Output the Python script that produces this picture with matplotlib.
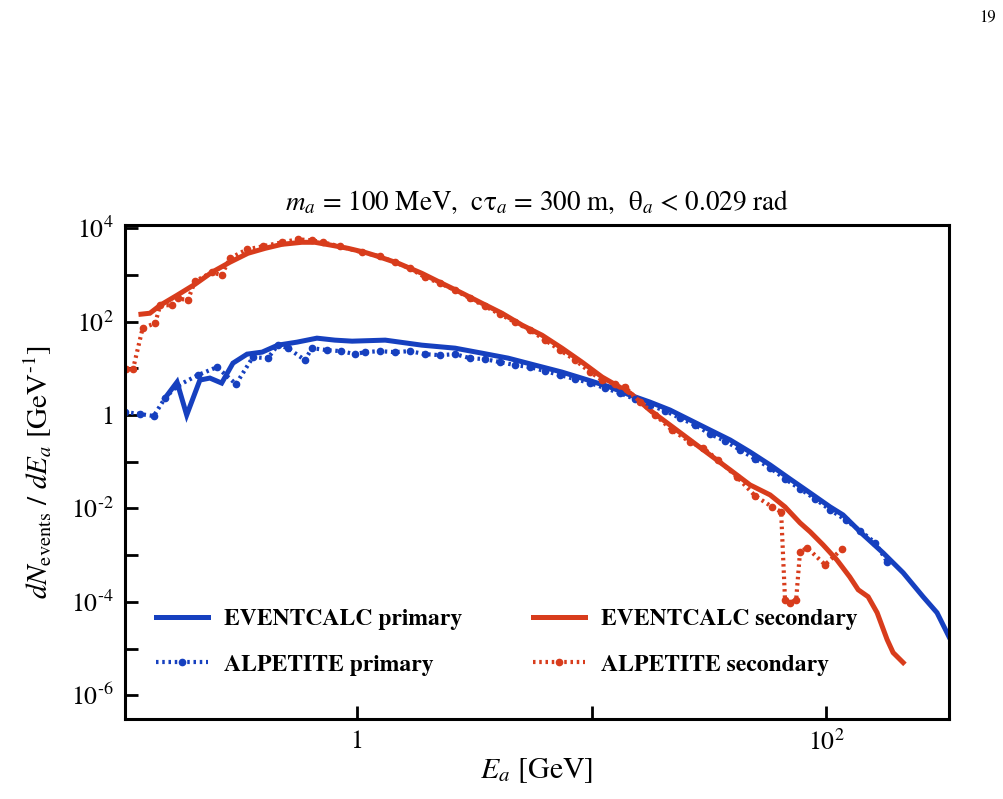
import numpy as np
import matplotlib
matplotlib.use("Agg")
import matplotlib.pyplot as plt
from matplotlib.ticker import FixedLocator, FixedFormatter, NullLocator

plt.rcParams['font.family'] = 'STIXGeneral'
plt.rcParams['mathtext.fontset'] = 'stix'

# EVENTCALC primary (solid blue)
E_ev_prim = [0.152, 0.171, 0.188, 0.214, 0.236, 0.265, 0.296, 0.340, 0.394, 0.460,
             0.555, 0.675, 0.805, 0.953, 1.32, 1.89, 2.62, 3.41, 4.41, 5.74,
             7.48, 9.66, 12.0, 14.6, 17.7, 21.6, 26.3, 32.0, 39.0, 47.4,
             57.7, 70.1, 85.5, 104, 118, 144, 175, 213, 259, 297, 334]
N_ev_prim = [2.31, 5.07, 1.00, 5.60, 6.18, 4.83, 12.9, 20.1, 22.2, 31.3,
             36.3, 44.2, 40.1, 38.1, 40.1, 31.3, 27.0, 21.1, 16.5, 11.7,
             8.30, 5.60, 3.96, 2.67, 1.90, 1.28, 0.782, 0.478, 0.292, 0.162,
             0.0855, 0.0429, 0.0215, 0.0108, 0.00729, 0.00273, 0.00112, 4.21e-4, 1.29e-4, 5.87e-5, 1.80e-5]

# EVENTCALC secondary (solid red)
E_ev_sec = [0.120, 0.131, 0.145, 0.171, 0.204, 0.241, 0.287, 0.343, 0.406, 0.479,
            0.582, 0.662, 0.782, 0.916, 1.08, 1.19, 1.50, 1.89, 2.30, 2.81,
            3.41, 4.15, 5.06, 6.15, 7.48, 9.10, 11.1, 14.6, 17.7, 21.6,
            26.3, 32.0, 39.0, 47.4, 57.7, 66.8, 77.4, 85.5, 97.0, 111,
            126, 137, 151, 165, 182, 193, 213]
N_ev_sec = [144, 151, 224, 366, 630, 1140, 1860, 2900, 3700, 4510,
            4980, 4980, 4290, 3700, 3040, 2620, 1770, 1080, 662, 405,
            247, 151, 83.8, 51.2, 27.0, 13.6, 6.49, 2.95, 1.28, 0.611,
            0.292, 0.140, 0.0668, 0.0319, 0.0195, 0.0108, 0.00492, 0.00316, 0.00167, 7.98e-4,
            3.45e-4, 1.82e-4, 1.29e-4, 5.87e-5, 1.56e-5, 8.22e-6, 5.02e-6]

# ALPETITE primary (dotted blue)
E_al_prim = [0.1025, 0.119, 0.136, 0.152, 0.171, 0.210, 0.253, 0.305, 0.360, 0.417,
             0.460, 0.508, 0.600, 0.643, 0.745, 0.855, 0.980, 1.08, 1.25, 1.45,
             1.68, 1.95, 2.26, 2.62, 3.03, 3.51, 4.07, 4.72, 5.47, 6.34,
             7.34, 8.51, 9.86, 11.4, 13.2, 15.3, 17.7, 20.6, 23.8, 27.6,
             32.0, 37.1, 43.0, 49.8, 57.7, 66.8, 77.4, 89.8, 104, 121,
             140, 162, 182]
N_al_prim = [1.16, 1.05, 0.952, 2.31, 4.17, 7.16, 10.6, 4.60, 17.3, 16.5,
             31.3, 27.0, 15.0, 27.0, 24.5, 23.3, 20.1, 22.2, 23.3, 22.2,
             23.3, 20.1, 19.1, 20.1, 16.5, 15.7, 13.6, 11.7, 10.6, 8.71,
             7.16, 5.88, 4.83, 3.78, 2.95, 2.20, 1.64, 1.22, 0.863, 0.611,
             0.393, 0.278, 0.179, 0.115, 0.0737, 0.0429, 0.0262, 0.0160, 0.00933, 0.00570,
             0.00332, 0.00184, 7.23e-4]

# ALPETITE secondary (dotted red)
E_al_sec = [0.1035, 0.111, 0.122, 0.138, 0.145, 0.163, 0.172, 0.190, 0.204, 0.241,
            0.265, 0.287, 0.340, 0.397, 0.479, 0.560, 0.643, 0.716, 0.846, 1.05,
            1.25, 1.45, 1.68, 1.95, 2.26, 2.62, 3.03, 3.51, 4.07, 4.72,
            5.47, 6.34, 7.34, 8.51, 9.86, 11.1, 12.6, 13.9, 16.1, 18.7,
            22.0, 26.3, 29.9, 34.6, 41.7, 49.8, 58.9, 64.3, 66.8, 70.2,
            74.5, 77.4, 83.0, 99.0, 117]
N_al_sec = [9.61, 9.61, 72.3, 92.5, 224, 224, 316, 287, 730, 1140,
            980, 2260, 3520, 4080, 4980, 5770, 5490, 4980, 4080, 3040,
            2500, 1860, 1380, 889, 662, 469, 316, 213, 144, 97.1,
            65.5, 40.1, 24.5, 15.0, 8.30, 5.60, 4.60, 3.96, 1.90, 1.00,
            0.478, 0.265, 0.197, 0.109, 0.0473, 0.0186, 0.0108, 0.00846, 1.11e-4, 9.62e-5,
            1.11e-4, 0.00118, 0.00144, 6.24e-4, 0.00137]

blue = '#1640bf'
red = '#d83c1c'
dots = (0, (0.6, 0.9))

fig = plt.figure(figsize=(10.04, 7.99), dpi=100)
ax = fig.add_axes([0.1245, 0.100, 0.8207, 0.618])

ax.plot(E_ev_prim, N_ev_prim, color=blue, lw=3.6, solid_joinstyle='miter', label='EVENTCALC primary')
ax.plot(E_ev_sec, N_ev_sec, color=red, lw=3.6, solid_joinstyle='miter', label='EVENTCALC secondary')
ax.plot(E_al_prim, N_al_prim, color=blue, lw=3, ls=dots, marker='o', ms=4.5, label='ALPETITE primary')
ax.plot(E_al_sec, N_al_sec, color=red, lw=3, ls=dots, marker='o', ms=4.5, label='ALPETITE secondary')

ax.set_xscale('log')
ax.set_yscale('log')
ax.set_xlim(0.1026, 334)
ax.set_ylim(3.1e-7, 1.15e4)

ax.xaxis.set_major_locator(FixedLocator([1, 10, 100]))
ax.xaxis.set_major_formatter(FixedFormatter(['1', '', r'$10^2$']))
ax.xaxis.set_minor_locator(NullLocator())
yt = [1e-6, 1e-5, 1e-4, 1e-3, 1e-2, 1e-1, 1, 10, 100, 1e3, 1e4]
ylab = ['$10^{\u20106}$', '', '$10^{\u20104}$', '', '$10^{\u20102}$', '',
        '1', '', r'$10^2$', '', r'$10^4$']
ax.yaxis.set_major_locator(FixedLocator(yt))
ax.yaxis.set_major_formatter(FixedFormatter(ylab))
ax.yaxis.set_minor_locator(NullLocator())

ax.tick_params(direction='in', length=9.5, width=2, labelsize=18.5, pad=8)
for s in ax.spines.values():
    s.set_linewidth(2.2)

ax.set_title(r'$m_a$ = 100 MeV,  c$\mathrm{\tau}_a$ = 300 m,  $\mathrm{\theta}_a$ < 0.029 rad',
             fontsize=19.5, pad=11)
ax.set_xlabel(r'$E_a$ [GeV]', fontsize=21.5, labelpad=0)
ax.set_ylabel('$dN_{\\mathrm{events}}$ / $dE_a$ [GeV$^{\u20101}$]', fontsize=21, labelpad=12)

handles, labels = ax.get_legend_handles_labels()
order = [0, 2, 1, 3]
ax.legend([handles[i] for i in order], [labels[i] for i in order], ncol=2, frameon=False,
          loc='lower left', bbox_to_anchor=(0.012, 0.045), prop={'weight': 'bold', 'size': 17},
          handlelength=2.2, handletextpad=0.68, columnspacing=3.0, labelspacing=1.0, numpoints=1)

fig.text(0.992, 0.988, '19', ha='right', va='top', fontsize=12)

fig.savefig('out.png', dpi=100)
